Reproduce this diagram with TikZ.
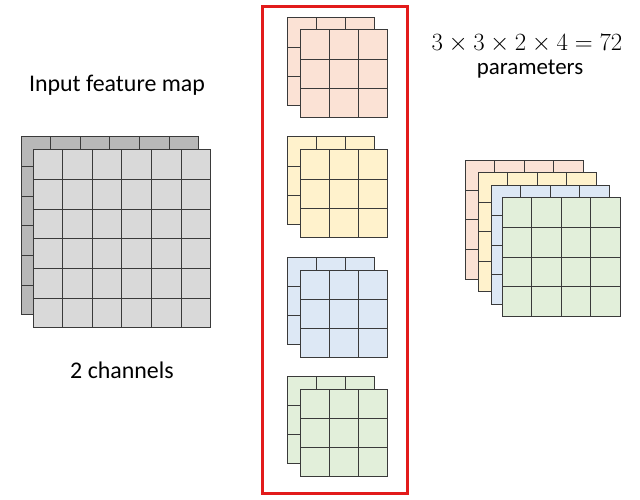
\documentclass[tikz,border=0pt]{standalone}
\usepackage{fontspec}
\setmainfont{Carlito}
\definecolor{gridc}{HTML}{3A3A3A}
\definecolor{grayback}{HTML}{B8B8B8}
\definecolor{grayfront}{HTML}{D9D9D9}
\definecolor{pinkc}{HTML}{FBE2D5}
\definecolor{yellowc}{HTML}{FFF2CC}
\definecolor{bluec}{HTML}{DDE8F5}
\definecolor{greenc}{HTML}{E2EFDA}
\definecolor{boxred}{HTML}{E21B1B}
\newcommand\mygrid[6]{% x, y, n, cell, fill, n-1
  \filldraw[fill=#5,draw=gridc,line width=1bp] (#1,#2) rectangle ++({#3*#4},{#3*#4});
  \foreach \i in {1,...,#6}{
    \draw[gridc,line width=1bp] ({#1+\i*#4},#2) -- ++(0,{#3*#4});
    \draw[gridc,line width=1bp] (#1,{#2+\i*#4}) -- ++({#3*#4},0);
  }
}
\tikzset{lbl/.style={inner sep=0pt,font=\fontsize{24}{28}\selectfont}}
\begin{document}
\begin{tikzpicture}[x=1bp,y=-1bp]
\useasboundingbox (0,0) rectangle (640,500);
% input feature map
\mygrid{21}{137}{6}{29.6}{grayback}{5}
\mygrid{33}{150}{6}{29.6}{grayfront}{5}
% filters
\mygrid{287}{18}{3}{29.3}{pinkc}{2}
\mygrid{300}{30}{3}{29.3}{pinkc}{2}
\mygrid{287}{137}{3}{29.3}{yellowc}{2}
\mygrid{300}{150}{3}{29.3}{yellowc}{2}
\mygrid{287}{257}{3}{29.3}{bluec}{2}
\mygrid{300}{270}{3}{29.3}{bluec}{2}
\mygrid{287}{376}{3}{29.3}{greenc}{2}
\mygrid{300}{389}{3}{29.3}{greenc}{2}
\draw[boxred,line width=3bp] (262,7) rectangle (407,493);
% output stack
\mygrid{465}{161}{4}{29.5}{pinkc}{3}
\mygrid{478}{173}{4}{29.5}{yellowc}{3}
\mygrid{491}{186}{4}{29.5}{bluec}{3}
\mygrid{502}{198}{4}{29.5}{greenc}{3}
% texts
\node[lbl] (title) at (117,85) {Input feature map};
\node[lbl] (chan) at (122,370) {2 channels};
\node[lbl] (eq) at (527,44) {$3\times3\times2\times4=72$};
\node[lbl,font=\fontsize{23}{27}\selectfont] (par) at (530,69) {parameters};
\end{tikzpicture}
\end{document}
